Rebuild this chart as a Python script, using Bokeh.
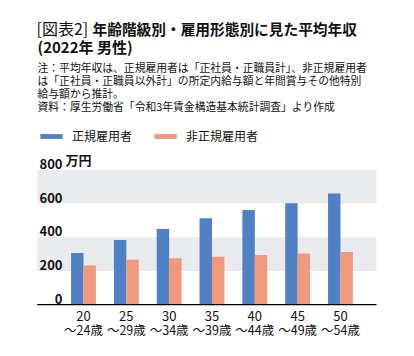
from bokeh.plotting import figure
from bokeh.models import (ColumnDataSource, Label, Legend, LegendItem, Range1d)
from bokeh.core.properties import value
from bokeh.transform import dodge
from bokeh.embed import file_html
from bokeh.resources import INLINE

# ---- data ----
age_groups = ["20\n～24歳", "25\n～29歳", "30\n～34歳", "35\n～39歳",
              "40\n～44歳", "45\n～49歳", "50\n～54歳"]
regular = [307, 383, 449, 513, 562, 602, 660]
nonregular = [232, 266, 276, 284, 294, 304, 313]
y_ticks = [0, 200, 400, 600, 800]
y_tick_labels = ["0", "200", "400", "600", "800"]
series_names = ["正規雇用者", "非正規雇用者"]
unit_label = "万円"
title_prefix = "[図表2]"
title_main = "年齢階級別・雇用形態別に見た平均年収"
title_line2 = "(2022年 男性)"
notes = ["注：平均年収は、正規雇用者は「正社員・正職員計」、非正規雇用者",
         "は「正社員・正職員以外計」の所定内給与額と年間賞与その他特別",
         "給与額から推計。",
         "資料：厚生労働省「令和3年賃金構造基本統計調査」より作成"]

# ---- style / layout ----
BLUE = "#4f81c4"
ORANGE = "#f0997b"
BAND = "#e9ebee"
INK = "#111111"
JP = "Noto Sans CJK JP"

W, H = 398, 340
# the frame covers the whole canvas; the plotting area is a sub-region of it
X_START, X_END = -1.938, 7.355
Y_START, Y_END = -212.3, 1804.0
AREA_L, AREA_R = -1.081, 6.841
YLAB_X = -0.49

p = figure(width=W, height=H, output_backend="svg", toolbar_location=None,
           x_axis_location=None, y_axis_location=None,
           min_border=0, outline_line_color=None,
           x_range=Range1d(X_START, X_END), y_range=Range1d(Y_START, Y_END))
p.grid.visible = False

# alternating bands between ticks (odd intervals)
band_c = [(y_ticks[i] + y_ticks[i + 1]) / 2 for i in range(1, len(y_ticks) - 1, 2)]
band_h = [y_ticks[i + 1] - y_ticks[i] for i in range(1, len(y_ticks) - 1, 2)]
p.hbar(y=band_c, height=band_h, left=AREA_L, right=AREA_R,
       fill_color=BAND, line_color=None)

xs = list(range(len(age_groups)))
bw = 0.29
src = ColumnDataSource(dict(x=xs, reg=regular, non=nonregular))
r1 = p.vbar(x=dodge("x", -bw / 2, range=p.x_range), top="reg", width=bw,
            source=src, fill_color=BLUE, line_color=None)
r2 = p.vbar(x=dodge("x", bw / 2, range=p.x_range), top="non", width=bw,
            source=src, fill_color=ORANGE, line_color=None)

# baseline (x axis line)
p.segment(x0=[AREA_L], x1=[AREA_R], y0=[y_ticks[0]], y1=[y_ticks[0]],
          line_color="#000000", line_width=1.3)

# x tick labels (two lines)
top_lab = [g.split("\n")[0] for g in age_groups]
bot_lab = [g.split("\n")[1] for g in age_groups]
lsrc = ColumnDataSource(dict(x=xs, y=[y_ticks[0]] * len(xs), a=top_lab, b=bot_lab))
p.text(x="x", y="y", text="a", source=lsrc, text_align="center",
       text_baseline="middle", y_offset=11, text_font=value(JP),
       text_font_size="13px", text_color=INK)
p.text(x="x", y="y", text="b", source=lsrc, text_align="center",
       text_baseline="middle", y_offset=25, text_font=value(JP),
       text_font_size="12.5px", text_color=INK)

# y tick labels
ysrc = ColumnDataSource(dict(x=[YLAB_X] * len(y_ticks), y=y_ticks, t=y_tick_labels))
p.text(x="x", y="y", text="t", source=ysrc, text_align="right",
       text_baseline="bottom", y_offset=-1, text_font=value(JP),
       text_font_size="13px", text_font_style="bold", text_color=INK)
p.text(x=[YLAB_X], y=[y_ticks[-1]], text=[unit_label], text_align="left",
       text_baseline="bottom", x_offset=3, y_offset=-1, text_font=value(JP),
       text_font_size="13px", text_font_style="bold", text_color=INK)

# legend
legend = Legend(items=[LegendItem(label=series_names[0], renderers=[r1]),
                       LegendItem(label=series_names[1], renderers=[r2])],
                orientation="horizontal", location=(37, 196),
                glyph_width=28, glyph_height=6, label_text_font=JP,
                label_text_font_size="12px", label_standoff=7, spacing=19,
                padding=0, margin=0, border_line_color=None,
                background_fill_alpha=0, label_text_color=INK,
                label_height=14)
p.add_layout(legend, "center")

# titles and notes (screen units, y measured from the bottom of the canvas)
p.add_layout(Label(x=36, y=H - 27.5, x_units="screen", y_units="screen",
                   text=title_prefix, text_font=JP, text_font_size="16px",
                   text_color=INK, text_baseline="middle"))
p.add_layout(Label(x=92, y=H - 27.5, x_units="screen", y_units="screen",
                   text=title_main, text_font=JP, text_font_size="14.7px",
                   text_font_style="bold", text_color=INK,
                   text_baseline="middle"))
p.add_layout(Label(x=37, y=H - 46, x_units="screen", y_units="screen",
                   text=title_line2, text_font=JP, text_font_size="15px",
                   text_font_style="bold", text_color=INK,
                   text_baseline="middle"))
for i, line in enumerate(notes):
    p.add_layout(Label(x=37, y=H - 66 - 13.2 * i, x_units="screen",
                       y_units="screen", text=line, text_font=JP,
                       text_font_size="10.8px", text_color=INK,
                       text_baseline="middle"))

open("out.html", "w").write(file_html(p, INLINE))
